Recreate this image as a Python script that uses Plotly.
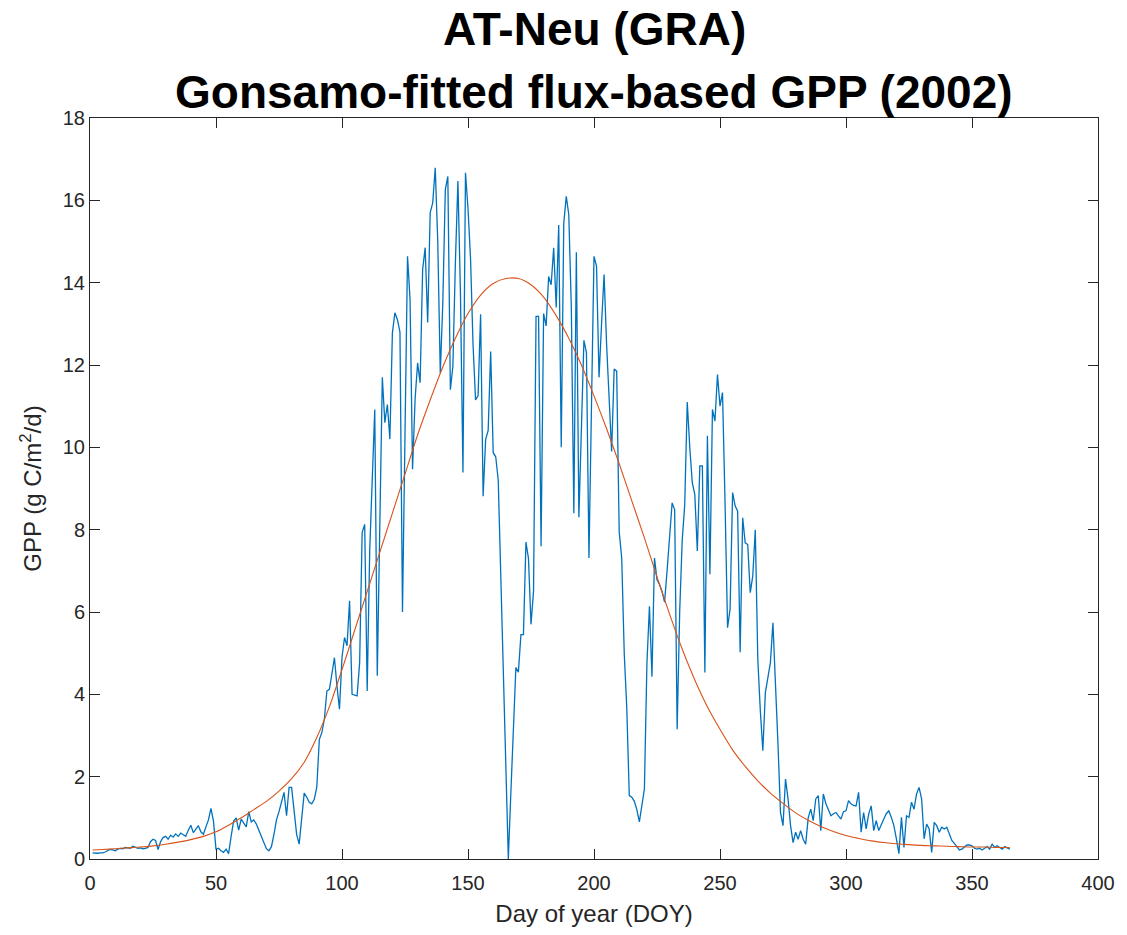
import plotly.graph_objects as go

# Daily flux-based GPP, AT-Neu 2002 (g C m-2 d-1), day 1..365
doy = list(range(1, 366))
gpp_flux = [
    0.15, 0.14, 0.14, 0.15, 0.15, 0.17, 0.20, 0.23, 0.22, 0.20,
    0.24, 0.26, 0.25, 0.28, 0.27, 0.26, 0.31, 0.28, 0.26, 0.27,
    0.25, 0.26, 0.28, 0.42, 0.48, 0.45, 0.23, 0.42, 0.52, 0.55,
    0.48, 0.58, 0.53, 0.61, 0.55, 0.63, 0.58, 0.55, 0.70, 0.82,
    0.64, 0.72, 0.81, 0.66, 0.60, 0.78, 0.95, 1.23, 0.92, 0.24,
    0.26, 0.20, 0.16, 0.24, 0.13, 0.55, 0.92, 1.00, 0.70, 0.97,
    0.88, 0.78, 1.15, 0.90, 0.95, 0.85, 0.70, 0.55, 0.40, 0.25,
    0.20, 0.30, 0.60, 0.95, 1.15, 1.40, 1.62, 1.05, 1.74, 1.74,
    1.20, 0.60, 0.36, 1.05, 1.60, 1.50, 1.38, 1.34, 1.45, 1.75,
    2.90, 3.07, 3.40, 4.08, 4.12, 4.50, 4.89, 4.20, 3.64, 4.90,
    5.38, 5.18, 6.27, 4.00, 3.98, 3.96, 4.77, 7.93, 8.13, 4.08,
    7.50, 9.39, 10.92, 4.45, 8.10, 11.70, 10.60, 11.04, 10.20, 12.78,
    13.27, 13.10, 12.80, 6.00, 10.30, 14.64, 13.60, 9.47, 11.16, 12.05,
    11.57, 14.32, 14.85, 13.03, 15.70, 15.94, 16.79, 15.00, 11.80, 13.50,
    16.26, 16.58, 11.40, 11.97, 14.50, 16.47, 13.75, 9.39, 16.67, 15.80,
    14.60, 12.50, 11.15, 11.26, 13.23, 8.81, 10.19, 10.41, 12.33, 9.87,
    9.77, 9.20, 6.90, 4.60, 2.30, 0.00, 1.60, 3.10, 4.65, 4.54,
    5.45, 5.45, 7.70, 7.30, 5.70, 6.50, 13.18, 13.18, 7.60, 13.25,
    12.95, 14.15, 13.95, 14.85, 13.40, 15.40, 10.00, 15.44, 16.10, 15.65,
    13.40, 8.40, 14.74, 8.30, 10.50, 12.60, 12.30, 7.31, 11.00, 14.64,
    14.40, 11.70, 13.00, 14.20, 12.50, 11.00, 9.90, 11.90, 11.85, 7.95,
    7.31, 5.00, 3.68, 1.54, 1.50, 1.40, 1.20, 0.90, 1.30, 1.70,
    4.75, 6.14, 4.43, 7.31, 6.78, 6.67, 6.50, 6.24, 7.00, 7.80,
    8.65, 8.49, 3.15, 6.00, 7.74, 8.60, 11.10, 10.00, 9.14, 8.86,
    7.48, 9.55, 9.55, 4.53, 10.28, 6.92, 10.92, 10.64, 11.77, 11.00,
    11.33, 8.66, 5.62, 6.07, 8.90, 8.58, 8.45, 5.02, 8.29, 7.68,
    7.64, 6.47, 6.87, 8.00, 4.85, 3.60, 2.63, 4.04, 4.40, 4.77,
    5.74, 4.37, 2.80, 1.13, 0.81, 1.94, 1.46, 0.81, 0.40, 0.65,
    0.48, 0.69, 0.48, 0.36, 1.00, 1.21, 0.93, 1.46, 1.54, 0.69,
    1.58, 1.35, 1.20, 1.05, 1.10, 1.13, 1.05, 0.97, 1.15, 1.17,
    1.42, 1.34, 1.30, 1.29, 1.62, 0.65, 1.13, 0.73, 1.09, 1.29,
    0.69, 0.93, 0.69, 0.85, 0.97, 1.10, 1.17, 1.01, 0.81, 0.49,
    0.13, 1.01, 0.28, 1.05, 1.01, 1.38, 1.21, 1.58, 1.74, 1.46,
    0.49, 0.85, 0.73, 0.16, 0.89, 0.81, 0.65, 0.77, 0.73, 0.77,
    0.61, 0.45, 0.38, 0.30, 0.22, 0.24, 0.30, 0.34, 0.34, 0.32,
    0.26, 0.24, 0.26, 0.22, 0.26, 0.30, 0.24, 0.36, 0.28, 0.32,
    0.28, 0.24, 0.30, 0.26, 0.24,
]

# Gonsamo-fitted seasonal curve, sampled every 5 days
fit_doy = [1, 5, 10, 15, 20, 25, 30, 35, 40, 45, 50, 55, 60, 65, 70, 75,
           80, 85, 90, 95, 100, 105, 110, 115, 120, 125, 130, 135, 140, 145,
           150, 155, 160, 165, 170, 175, 180, 185, 190, 195, 200, 205, 210,
           215, 220, 225, 230, 235, 240, 245, 250, 255, 260, 265, 270, 275,
           280, 285, 290, 295, 300, 305, 310, 315, 320, 325, 330, 335, 340,
           345, 350, 355, 360, 365]
gpp_fit = [0.22, 0.23, 0.25, 0.27, 0.29, 0.32, 0.36, 0.41, 0.47, 0.55,
           0.66, 0.82, 1.00, 1.20, 1.40, 1.65, 1.95, 2.35, 2.95, 3.70,
           4.60, 5.55, 6.50, 7.45, 8.40, 9.35, 10.30, 11.15, 11.95, 12.65,
           13.25, 13.70, 13.98, 14.10, 14.10, 13.95, 13.65, 13.20, 12.65, 12.00,
           11.25, 10.45, 9.60, 8.70, 7.80, 6.85, 5.95, 5.10, 4.35, 3.70,
           3.15, 2.65, 2.25, 1.90, 1.60, 1.35, 1.12, 0.94, 0.79, 0.67,
           0.57, 0.50, 0.44, 0.40, 0.37, 0.35, 0.33, 0.32, 0.31, 0.30,
           0.29, 0.29, 0.28, 0.28]

x_ticks = [0, 50, 100, 150, 200, 250, 300, 350, 400]
y_ticks = [0, 2, 4, 6, 8, 10, 12, 14, 16, 18]

AXIS_COLOR = "#262626"
FONT = "Arial, Liberation Sans, Helvetica, sans-serif"

fig = go.Figure()
fig.add_trace(go.Scatter(
    x=doy, y=gpp_flux, mode="lines",
    line=dict(color="#0072BD", width=1.3),
    showlegend=False,
))
fig.add_trace(go.Scatter(
    x=fit_doy, y=gpp_fit, mode="lines",
    line=dict(color="#D95319", width=1.1, shape="spline", smoothing=0.8),
    showlegend=False,
))

axis_common = dict(
    showgrid=False, zeroline=False,
    showline=True, linecolor=AXIS_COLOR, linewidth=1, mirror="ticks",
    ticks="inside", ticklen=10, tickwidth=1, tickcolor=AXIS_COLOR,
    tickfont=dict(family=FONT, size=20, color=AXIS_COLOR),
)

fig.update_xaxes(
    range=[0, 400], tickvals=x_ticks, ticktext=[str(v) for v in x_ticks],
    ticklabelstandoff=6,
    title=dict(text="Day of year (DOY)", font=dict(family=FONT, size=24, color=AXIS_COLOR),
               standoff=12),
    **axis_common,
)
fig.update_yaxes(
    range=[0, 18], tickvals=y_ticks, ticktext=[str(v) for v in y_ticks],
    title=dict(text="GPP (g C/m<sup>2</sup>/d)", font=dict(family=FONT, size=24, color=AXIS_COLOR),
               standoff=14),
    **axis_common,
)

# Two-line bold title above the axes
fig.add_annotation(
    text="<b>AT-Neu (GRA)</b>", xref="paper", yref="paper",
    x=0.5, y=1.12, xanchor="center", yanchor="middle", showarrow=False,
    font=dict(family=FONT, size=46, color="#000000"),
)
fig.add_annotation(
    text="<b>Gonsamo-fitted flux-based GPP (2002)</b>", xref="paper", yref="paper",
    x=0.5, y=1.035, xanchor="center", yanchor="middle", showarrow=False,
    font=dict(family=FONT, size=46, color="#000000"),
)

fig.update_layout(
    width=1127, height=935,
    margin=dict(l=90, r=22, t=118, b=75),
    paper_bgcolor="white", plot_bgcolor="white",
)

fig.write_html("out.html")
